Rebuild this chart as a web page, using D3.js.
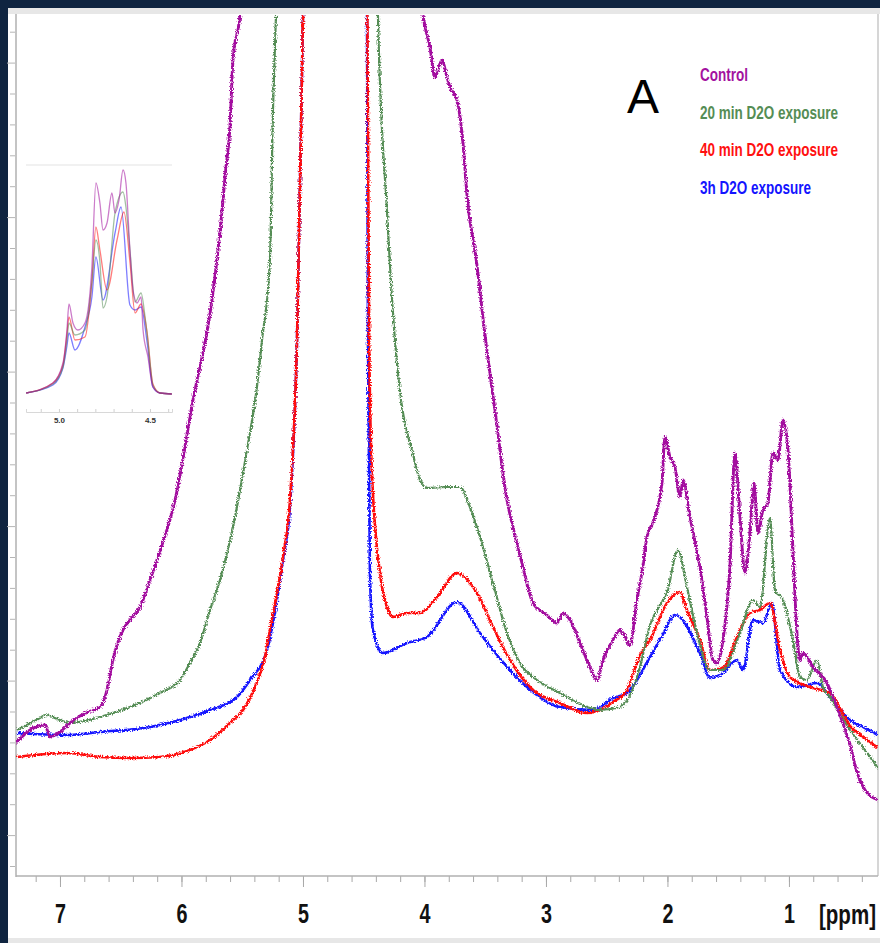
<!DOCTYPE html>
<html>
<head>
<meta charset="utf-8">
<script src="https://cdn.jsdelivr.net/npm/d3@7"></script>
<style>
  body { margin: 0; background: #0f2440; }
  svg { display: block; }
  .lbl { font-family: "Liberation Sans", Arial, sans-serif; font-weight: bold; }
</style>
</head>
<body>
<svg width="880" height="943"></svg>
<script>
// spectra: [ppm, intensity (a.u.)]
var controlData = [[7.362,133],[7.247,146],[7.123,151],[7.082,139],[7.041,141],[7.0,144],[6.918,153],[6.794,163],[6.671,169],[6.613,186],[6.564,216],[6.482,246],[6.424,256],[6.341,269],[6.259,296],[6.202,316],[6.053,376],[5.905,476],[5.749,576],[5.658,676],[5.642,699],[5.601,749],[5.576,816],[5.519,861],[5.45,1000],[4.75,3000],[4.1,1000],[4.012,861],[3.955,829],[3.914,799],[3.856,816],[3.815,799],[3.790,789],[3.733,776],[3.683,733],[3.650,681],[3.568,611],[3.502,541],[3.420,466],[3.321,376],[3.272,349],[3.189,309],[3.107,273],[2.992,261],[2.909,253],[2.860,263],[2.802,256],[2.720,233],[2.638,209],[2.580,196],[2.531,216],[2.449,236],[2.391,246],[2.366,243],[2.309,231],[2.251,276],[2.202,309],[2.169,339],[2.119,354],[2.045,393],[2.021,439],[1.979,419],[1.938,409],[1.897,379],[1.872,396],[1.815,359],[1.733,309],[1.675,259],[1.626,216],[1.593,213],[1.543,236],[1.486,309],[1.444,423],[1.403,359],[1.362,303],[1.321,343],[1.288,393],[1.255,343],[1.214,366],[1.173,373],[1.132,423],[1.091,416],[1.049,456],[1.008,426],[0.967,326],[0.934,243],[0.909,216],[0.885,223],[0.802,209],[0.687,193],[0.638,179],[0.580,161],[0.498,131],[0.432,101],[0.374,86],[0.267,76]];
var min20Data = [[7.354,146],[7.165,158],[7.123,161],[7.0,156],[6.918,153],[6.671,159],[6.424,169],[6.177,183],[6.012,196],[5.930,213],[5.848,233],[5.765,266],[5.683,296],[5.576,349],[5.461,426],[5.379,489],[5.337,536],[5.272,616],[5.247,766],[5.222,861],[5.18,1100],[4.75,3000],[4.42,1100],[4.383,861],[4.309,666],[4.243,536],[4.185,469],[4.103,426],[4.037,396],[3.979,388],[3.815,389],[3.708,389],[3.626,369],[3.543,339],[3.436,293],[3.321,243],[3.214,213],[3.074,196],[2.885,183],[2.663,169],[2.556,166],[2.391,169],[2.226,209],[2.144,251],[2.062,271],[2.004,283],[1.914,326],[1.840,289],[1.757,243],[1.650,206],[1.543,206],[1.403,243],[1.296,276],[1.239,269],[1.156,358],[1.115,286],[1.049,276],[0.967,236],[0.909,199],[0.852,196],[0.770,216],[0.720,189],[0.663,179],[0.498,146],[0.374,126],[0.267,108]];
var min40Data = [[7.354,119],[6.942,123],[6.671,119],[6.424,118],[6.177,119],[5.930,126],[5.765,136],[5.601,153],[5.477,169],[5.395,189],[5.313,219],[5.272,246],[5.165,319],[5.107,376],[5.049,536],[5.0,861],[4.9,1500],[4.75,3000],[4.55,1500],[4.47,861],[4.455,536],[4.432,403],[4.366,303],[4.309,269],[4.259,259],[4.144,263],[4.037,263],[3.897,279],[3.733,303],[3.568,283],[3.436,249],[3.296,216],[3.107,186],[2.885,173],[2.663,163],[2.556,166],[2.449,174],[2.333,186],[2.226,221],[2.144,236],[2.004,273],[1.897,284],[1.840,266],[1.733,236],[1.650,206],[1.543,208],[1.428,239],[1.321,263],[1.239,266],[1.156,273],[1.074,226],[0.992,199],[0.827,189],[0.663,183],[0.498,150],[0.374,138],[0.267,128]];
var h3Data = [[7.354,143],[6.942,141],[6.671,144],[6.259,149],[6.012,156],[5.765,166],[5.543,179],[5.436,196],[5.296,226],[5.214,276],[5.165,316],[5.107,369],[5.049,536],[5.0,861],[4.9,1500],[4.75,3000],[4.55,1500],[4.473,861],[4.465,536],[4.449,303],[4.424,246],[4.342,223],[4.144,233],[3.979,239],[3.733,274],[3.543,243],[3.436,226],[3.156,189],[2.885,169],[2.613,166],[2.449,178],[2.333,183],[2.144,219],[2.045,240],[1.938,261],[1.733,223],[1.650,198],[1.543,203],[1.428,216],[1.379,206],[1.296,256],[1.214,253],[1.140,273],[1.074,206],[0.934,189],[0.770,193],[0.663,179],[0.498,156],[0.374,148],[0.267,141]];

// inset (zoom of 5.2 - 4.4 ppm)
var insetControl = [[5.18,19],[5.033,29],[4.978,49],[4.956,82],[4.945,108],[4.923,89],[4.896,82],[4.857,89],[4.819,145],[4.797,229],[4.775,209],[4.758,182],[4.736,189],[4.709,219],[4.692,199],[4.670,212],[4.648,242],[4.632,229],[4.610,162],[4.593,122],[4.571,109],[4.549,115],[4.538,82],[4.511,55],[4.484,25],[4.445,19],[4.38,18]];
var inset20 = [[5.18,19],[5.033,28],[4.978,45],[4.956,72],[4.945,89],[4.912,77],[4.857,82],[4.819,130],[4.797,172],[4.775,150],[4.758,104],[4.736,115],[4.692,199],[4.648,220],[4.632,205],[4.610,162],[4.582,110],[4.549,119],[4.527,95],[4.511,70],[4.484,27],[4.445,19],[4.38,18]];
var inset40 = [[5.18,19],[5.033,29],[4.978,47],[4.956,78],[4.945,95],[4.912,72],[4.857,75],[4.819,130],[4.797,185],[4.775,162],[4.736,122],[4.681,172],[4.643,200],[4.610,150],[4.582,99],[4.549,108],[4.516,80],[4.484,28],[4.445,19],[4.38,18]];
var inset3h = [[5.18,19],[5.033,27],[4.978,44],[4.956,66],[4.945,79],[4.912,62],[4.857,85],[4.819,115],[4.797,155],[4.758,112],[4.692,179],[4.659,205],[4.610,107],[4.582,102],[4.549,105],[4.516,70],[4.484,25],[4.445,19],[4.38,18]];

var xTicks = [7, 6, 5, 4, 3, 2, 1];
var insetTicks = [5.0, 4.5];
var seriesNames = ['Control', '20 min D2O exposure', '40 min D2O exposure', '3h D2O exposure'];
var seriesColors = ['#a3119f', '#558d55', '#ff1010', '#1414ff'];
var legendWidths = [48, 138, 138, 111];

var svg = d3.select('svg');

// noise look of the recorded spectra
var filt = svg.append('defs').append('filter').attr('id', 'rough')
    .attr('x', '-5%').attr('y', '-5%').attr('width', '110%').attr('height', '110%');
filt.append('feTurbulence').attr('type', 'fractalNoise').attr('baseFrequency', '0.8')
    .attr('numOctaves', 1).attr('seed', 3).attr('result', 'noise');
filt.append('feDisplacementMap').attr('in', 'SourceGraphic').attr('in2', 'noise')
    .attr('scale', 5).attr('xChannelSelector', 'R').attr('yChannelSelector', 'G');

// page panel
svg.append('rect').attr('x', 8).attr('y', 8).attr('width', 872).attr('height', 935).attr('fill', '#fff');
svg.append('rect').attr('x', 8).attr('y', 8).attr('width', 872).attr('height', 6).attr('fill', '#e7e7e7');
svg.append('rect').attr('x', 8).attr('y', 938).attr('width', 872).attr('height', 5).attr('fill', '#e7e7e7');

var x = d3.scaleLinear().domain([7.362, 0.267]).range([16, 878]);
var y = d3.scaleLinear().domain([0, 861]).range([876, 15]);

svg.append('clipPath').attr('id', 'clip')
    .append('rect').attr('x', 16).attr('y', 15).attr('width', 862).attr('height', 861);

// frame
svg.append('line').attr('x1', 878).attr('x2', 878).attr('y1', 14).attr('y2', 876)
    .attr('stroke', '#c8c8c8').attr('stroke-width', 1.5);

// left ticks (unlabelled intensity)
var yTickVals = d3.range(10, 861, 30.9);
var yAx = svg.append('g').attr('transform', 'translate(16,0)')
    .call(d3.axisLeft(y).tickValues(yTickVals).tickSize(6).tickFormat(''));
yAx.selectAll('.tick line').attr('stroke', '#b5b5b5')
    .attr('x2', function (d, i) { return (i % 5 == 1) ? -9 : -6; });
yAx.select('.domain').remove();
svg.append('line').attr('x1', 16).attr('x2', 16).attr('y1', 14).attr('y2', 877)
    .attr('stroke', '#c4c4c4').attr('stroke-width', 2);

// bottom axis
var minor = svg.append('g').attr('transform', 'translate(0,876)')
    .call(d3.axisBottom(x).tickValues(d3.range(7.2, 0.3, -0.2)).tickSize(6).tickFormat(''));
minor.select('.domain').remove();
minor.selectAll('.tick line').attr('stroke', '#a8a8a8');
var major = svg.append('g').attr('transform', 'translate(0,876)')
    .call(d3.axisBottom(x).tickValues(xTicks).tickSize(11).tickPadding(17).tickFormat(d3.format('d')));
major.select('.domain').remove();
major.selectAll('.tick line').attr('stroke', '#a8a8a8');
major.selectAll('text').attr('class', 'lbl').attr('font-size', 27).attr('fill', '#111')
    .attr('textLength', 11).attr('lengthAdjust', 'spacingAndGlyphs');
svg.append('line').attr('x1', 16).attr('x2', 878).attr('y1', 876).attr('y2', 876)
    .attr('stroke', '#b0b0b0').attr('stroke-width', 1.5);
svg.append('text').attr('class', 'lbl').attr('x', 819).attr('y', 924)
    .attr('font-size', 27).attr('fill', '#111')
    .attr('textLength', 57).attr('lengthAdjust', 'spacingAndGlyphs').text('[ppm]');

// spectra
var line = d3.line()
    .x(function (d) { return x(d[0]); })
    .y(function (d) { return y(d[1]); })
    .curve(d3.curveMonotoneX);
var plot = svg.append('g').attr('clip-path', 'url(#clip)')
    .append('g').attr('filter', 'url(#rough)');
var order = [[h3Data, 3], [min40Data, 2], [min20Data, 1], [controlData, 0]];
order.forEach(function (s) {
    plot.append('path').datum(s[0])
        .attr('fill', 'none')
        .attr('stroke', seriesColors[s[1]])
        .attr('stroke-width', s[1] == 0 ? 2.9 : (s[1] == 1 ? 2.2 : 2.6))
        .attr('stroke-linejoin', 'round')
        .attr('d', line);
});

// inset
var xi = d3.scaleLinear().domain([5.181, 4.379]).range([26, 172]);
var yi = d3.scaleLinear().domain([0, 247]).range([412, 165]);
svg.append('line').attr('x1', 26).attr('x2', 172).attr('y1', 165).attr('y2', 165)
    .attr('stroke', '#e4e4e4').attr('stroke-width', 1.2);
var ia = svg.append('g').attr('transform', 'translate(0,412)')
    .call(d3.axisBottom(xi).tickValues(d3.range(5.1, 4.39, -0.1)).tickSize(-3).tickFormat(''));
ia.select('.domain').attr('stroke', '#d8d8d8');
ia.selectAll('.tick line').attr('stroke', '#d0d0d0');
var il = svg.append('g').attr('transform', 'translate(0,412)')
    .call(d3.axisBottom(xi).tickValues(insetTicks).tickSize(0).tickPadding(5).tickFormat(d3.format('.1f')));
il.select('.domain').remove();
il.selectAll('text').attr('font-family', 'Liberation Sans, Arial, sans-serif')
    .attr('font-weight', 'bold').attr('font-size', 8).attr('fill', '#333');

var iline = d3.line()
    .x(function (d) { return xi(d[0]); })
    .y(function (d) { return yi(d[1]); })
    .curve(d3.curveMonotoneX);
[[inset3h, 3], [inset40, 2], [inset20, 1], [insetControl, 0]].forEach(function (s) {
    svg.append('path').datum(s[0])
        .attr('fill', 'none')
        .attr('stroke', seriesColors[s[1]])
        .attr('stroke-opacity', 0.55)
        .attr('stroke-width', 1.3)
        .attr('d', iline);
});

// panel letter + legend
svg.append('text').attr('x', 627).attr('y', 113)
    .attr('font-family', 'Liberation Sans, Arial, sans-serif').attr('font-size', 48)
    .attr('fill', '#000').text('A');
svg.selectAll('.leg').data(seriesNames).enter().append('text')
    .attr('class', 'lbl')
    .attr('x', 700)
    .attr('y', function (d, i) { return 81 + i * 37.5; })
    .attr('font-size', 19)
    .attr('textLength', function (d, i) { return legendWidths[i]; })
    .attr('lengthAdjust', 'spacingAndGlyphs')
    .attr('fill', function (d, i) { return seriesColors[i]; })
    .text(function (d) { return d; });
</script>
</body>
</html>
